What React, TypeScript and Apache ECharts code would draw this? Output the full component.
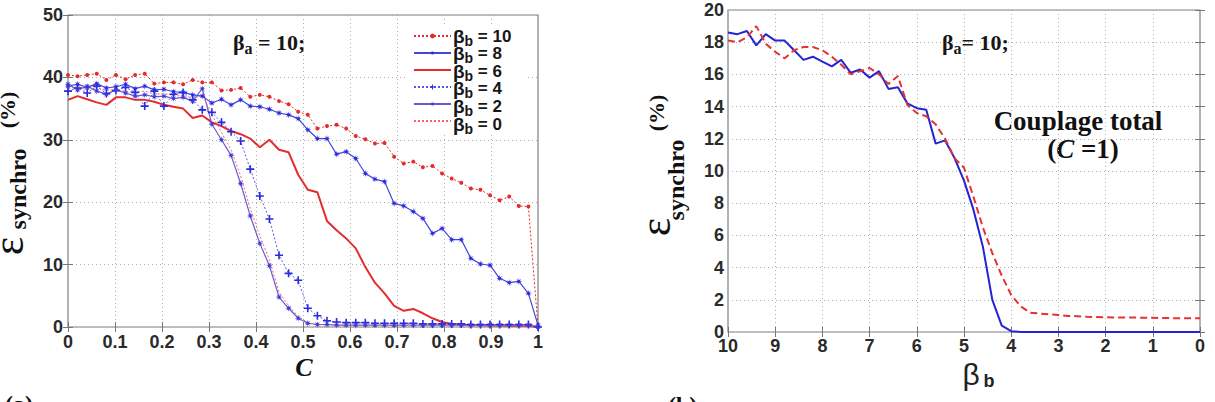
import { useEffect, useRef } from "react";
import * as echarts from "echarts";

// ---- Panel (a): synchronisation error vs coupling strength C (beta_a = 10) ----
// Coupling strength sampling grid: 50 points from 0 to 1
const couplingC = Array.from({ length: 50 }, (_, i) => i / 49);

const synchroB10 = [
  40.4, 40.2, 40.4, 40.6, 39.6, 40.4, 39.7, 40.4, 40.6, 39.0,
  39.2, 39.2, 38.9, 39.6, 39.2, 39.2, 37.9, 38.0, 38.3, 36.9,
  37.2, 36.9, 36.2, 35.7, 34.5, 34.0, 31.8, 32.2, 32.4, 31.8,
  30.6, 30.1, 29.4, 29.5, 27.3, 26.2, 26.5, 25.6, 25.8, 24.6,
  23.8, 23.1, 22.2, 22.0, 21.1, 20.3, 20.9, 19.4, 19.3, 0,
];
const synchroB8 = [
  38.6, 38.9, 38.4, 39.0, 38.3, 38.5, 38.9, 38.2, 38.6, 38.0,
  38.1, 37.7, 37.6, 37.2, 37.0, 35.9, 36.5, 35.6, 36.4, 35.4,
  35.3, 34.9, 34.3, 34.0, 33.4, 31.6, 30.2, 30.2, 27.7, 28.1,
  27.0, 24.6, 23.7, 23.3, 19.8, 19.4, 18.5, 17.4, 15.0, 15.8,
  14.0, 14.0, 11.0, 10.1, 9.9, 7.8, 7.1, 7.3, 5.4, 0.3,
];
const synchroB6 = [
  36.4, 37.0, 36.5, 36.0, 35.6, 36.8, 36.8, 36.4, 36.4, 36.1,
  35.6, 35.3, 35.0, 33.5, 33.9, 32.8, 32.2, 31.4, 30.9, 30.2,
  28.8, 30.0, 28.4, 28.0, 24.4, 22.0, 21.6, 17.0, 15.5, 14.2,
  12.6, 9.6, 7.1, 5.4, 3.4, 2.6, 2.9, 2.2, 1.4, 0.8,
  0.5, 0.35, 0.3, 0.3, 0.25, 0.25, 0.2, 0.2, 0.2, 0,
];
const synchroB4 = [
  37.8, 38.3, 37.5, 38.6, 37.4, 37.9, 38.4, 37.6, 35.4, 37.8,
  35.4, 37.3, 37.6, 36.4, 34.8, 34.4, 32.8, 31.3, 29.8, 25.3,
  21.0, 17.3, 11.5, 8.6, 7.5, 3.0, 1.8, 1.0, 0.8, 0.7,
  0.7, 0.7, 0.6, 0.6, 0.6, 0.6, 0.6, 0.5, 0.5, 0.5,
  0.5, 0.5, 0.4, 0.4, 0.4, 0.4, 0.4, 0.4, 0.4, 0,
];
const synchroB2 = [
  38.9, 38.0, 38.6, 37.8, 37.3, 38.0, 37.5, 37.0, 37.2, 36.9,
  37.0, 36.6, 36.8, 36.2, 38.2, 32.5, 30.0, 27.5, 23.0, 17.8,
  13.4, 9.8, 4.8, 3.0, 1.4, 0.6, 0.4, 0.4, 0.3, 0.3,
  0.3, 0.3, 0.3, 0.3, 0.3, 0.3, 0.3, 0.3, 0.3, 0.3,
  0.3, 0.3, 0.3, 0.3, 0.3, 0.3, 0.3, 0.3, 0.3, 0,
];
const synchroB0 = [
  38.2, 38.5, 38.0, 38.4, 37.9, 38.1, 37.7, 37.6, 37.8, 37.3,
  37.4, 37.1, 37.0, 36.6, 37.2, 34.0, 31.2, 28.4, 24.2, 19.0,
  14.6, 10.8, 5.6, 3.4, 1.7, 0.7, 0.4, 0.3, 0.3, 0.3,
  0.3, 0.3, 0.3, 0.3, 0.3, 0.3, 0.3, 0.3, 0.3, 0.3,
  0.3, 0.3, 0.3, 0.3, 0.3, 0.3, 0.3, 0.3, 0.3, 0,
];

// ---- Panel (b): synchronisation error vs beta_b under total coupling (C = 1) ----
// beta_b sampled from 10 down to 0 in steps of 0.2
const betaB = Array.from({ length: 51 }, (_, k) => Math.round((10 - 0.2 * k) * 10) / 10);

const synchroSolid = [
  18.6, 18.5, 18.7, 17.8, 18.5, 18.1, 18.1, 17.5, 16.9, 17.1,
  16.8, 16.5, 16.9, 16.1, 16.3, 15.8, 16.2, 15.1, 15.2, 14.2,
  13.9, 13.8, 11.7, 11.9, 10.8, 9.4, 7.6, 5.3, 2.0, 0.4,
  0.05, 0, 0, 0, 0, 0, 0, 0, 0, 0,
  0, 0, 0, 0, 0, 0, 0, 0, 0, 0, 0,
];
const synchroDashed = [
  18.1, 18.0, 18.3, 19.0, 17.9, 17.4, 17.0, 17.5, 17.7, 17.7,
  17.5, 17.1, 16.6, 16.0, 16.2, 16.4, 16.0, 15.4, 15.9, 14.1,
  13.6, 13.4, 12.9, 12.0, 10.8, 10.2, 8.4, 6.5, 4.9, 3.5,
  2.3, 1.6, 1.2, 1.15, 1.1, 1.05, 1.0, 0.98, 0.95, 0.93,
  0.92, 0.9, 0.9, 0.9, 0.88, 0.88, 0.87, 0.86, 0.86, 0.85, 0.85,
];

const legendValues = ["10", "8", "6", "4", "2", "0"];

const RED = "#e42c2c";
const BLUE = "#2a2ade";
const SANS = "Liberation Sans, Arial, sans-serif";
const SERIF = "Liberation Serif, Times New Roman, serif";

const PLUS = "path://M4,0H6V4H10V6H6V10H4V6H0V4H4Z";
const STAR =
  "path://M5,0 L1.66,0.69 L3.54,3.54 L0.69,1.66 L0,5 L-0.69,1.66 L-3.54,3.54 L-1.66,0.69 L-5,0 L-1.66,-0.69 L-3.54,-3.54 L-0.69,-1.66 L0,-5 L0.69,-1.66 L3.54,-3.54 L1.66,-0.69 Z";

const pairs = (xs: number[], ys: number[]) => xs.map((x, i) => [x, ys[i]]);
const legendName = (v: string) => `β_b = ${v}`;

// legend layout (icons from the ECharts legend, labels as rich text beside them)
const LEGEND_LEFT = 405;
const LEGEND_TOP = 27;
const LEGEND_PAD = 6;
const LEGEND_ICON_W = 37;
const LEGEND_ICON_H = 6;
const LEGEND_ROW = 17.6;

const tickLabel = {
  fontFamily: SANS,
  fontWeight: "bold" as const,
  fontSize: 18,
  color: "#2a2a2a",
};
const gridLine = { show: true, lineStyle: { type: [1, 3], color: "#b0b0b0", width: 1 } };
const innerTick = { show: true, inside: true, length: 5, lineStyle: { color: "#777" } };

function valueAxis(gridIndex: number, min: number, max: number, interval: number, extra: any = {}) {
  return {
    type: "value",
    gridIndex,
    min,
    max,
    interval,
    axisLine: { show: false },
    axisTick: innerTick,
    splitLine: gridLine,
    ...extra,
  };
}

function mirrorAxis(gridIndex: number, min: number, max: number, interval: number, position: string, extra: any = {}) {
  return {
    type: "value",
    gridIndex,
    min,
    max,
    interval,
    position,
    axisLine: { show: false },
    axisTick: innerTick,
    axisLabel: { show: false },
    splitLine: { show: false },
    ...extra,
  };
}

function rotatedText(x: number, y: number, text: string, fontSize: number, bold: boolean) {
  return {
    type: "text",
    x,
    y,
    rotation: Math.PI / 2,
    style: {
      text,
      fontSize,
      fontFamily: SERIF,
      fontWeight: bold ? "bold" : "normal",
      fill: "#111",
      textAlign: "center",
      textVerticalAlign: "middle",
    },
  };
}

function subscripted(x: number, y: number, main: string, sub: string, rest: string, family: string, sizes: number[]) {
  return {
    type: "text",
    x,
    y,
    z: 100,
    style: {
      text: `{g|${main}}{s|${sub}}{t|${rest}}`,
      textAlign: "left",
      textVerticalAlign: "middle",
      fill: "#111",
      rich: {
        g: { fontSize: sizes[0], fontWeight: "bold", fontFamily: family, fill: "#161616" },
        s: { fontSize: sizes[1], fontWeight: "bold", fontFamily: family, fill: "#161616", padding: [sizes[3], 0, 0, 0] },
        t: { fontSize: sizes[2], fontWeight: "bold", fontFamily: family, fill: "#161616" },
      },
    },
  };
}

const legendLabels = legendValues.map((v, k) =>
  subscripted(
    LEGEND_LEFT + LEGEND_PAD + 2 + LEGEND_ICON_W + 3,
    LEGEND_TOP + LEGEND_PAD + LEGEND_ICON_H / 2 + k * LEGEND_ROW,
    "β",
    "b",
    ` = ${v}`,
    SANS,
    [19, 14, 17, 9]
  )
);

const noMarkerInLegend = new Set(["6", "0"]);

const option: any = {
  animation: false,
  backgroundColor: "#ffffff",
  textStyle: { fontFamily: SANS },
  grid: [
    { left: 68, top: 15, width: 470, height: 312, show: true, borderColor: "#808080", borderWidth: 1.2, backgroundColor: "transparent" },
    { left: 728, top: 10, width: 472, height: 322, show: true, borderColor: "#808080", borderWidth: 1.2, backgroundColor: "transparent" },
  ],
  xAxis: [
    valueAxis(0, 0, 1, 0.1, {
      axisLabel: { ...tickLabel, margin: 6, formatter: (v: number) => String(Math.round(v * 10) / 10) },
    }),
    mirrorAxis(0, 0, 1, 0.1, "top"),
    valueAxis(1, 0, 10, 1, { inverse: true, axisLabel: { ...tickLabel, margin: 5 } }),
    mirrorAxis(1, 0, 10, 1, "top", { inverse: true }),
  ],
  yAxis: [
    valueAxis(0, 0, 50, 10, { axisLabel: { ...tickLabel, margin: 5 } }),
    mirrorAxis(0, 0, 50, 10, "right"),
    valueAxis(1, 0, 20, 2, { axisLabel: { ...tickLabel, margin: 4 } }),
    mirrorAxis(1, 0, 20, 2, "right"),
  ],
  legend: {
    data: legendValues.map((v) =>
      noMarkerInLegend.has(v) ? { name: legendName(v), itemStyle: { opacity: 0 } } : { name: legendName(v) }
    ),
    orient: "vertical",
    left: LEGEND_LEFT,
    top: LEGEND_TOP,
    padding: [LEGEND_PAD, 76, 10, LEGEND_PAD + 2],
    backgroundColor: "#ffffff",
    itemWidth: LEGEND_ICON_W,
    itemHeight: LEGEND_ICON_H,
    itemGap: LEGEND_ROW - LEGEND_ICON_H,
    selectedMode: false,
    formatter: () => "",
    textStyle: { fontSize: 4 },
  },
  series: [
    {
      name: legendName("10"),
      type: "line",
      xAxisIndex: 0,
      yAxisIndex: 0,
      data: pairs(couplingC, synchroB10),
      symbol: "circle",
      symbolSize: 4,
      itemStyle: { color: RED },
      lineStyle: { color: RED, width: 1, type: [2, 2] },
      silent: true,
    },
    {
      name: legendName("8"),
      type: "line",
      xAxisIndex: 0,
      yAxisIndex: 0,
      data: pairs(couplingC, synchroB8),
      symbol: STAR,
      symbolSize: 7,
      itemStyle: { color: BLUE },
      lineStyle: { color: "#4646dc", width: 1.2 },
      silent: true,
    },
    {
      name: legendName("6"),
      type: "line",
      xAxisIndex: 0,
      yAxisIndex: 0,
      data: pairs(couplingC, synchroB6),
      symbol: "none",
      itemStyle: { color: RED },
      lineStyle: { color: RED, width: 2 },
      silent: true,
    },
    {
      name: legendName("4"),
      type: "line",
      xAxisIndex: 0,
      yAxisIndex: 0,
      data: pairs(couplingC, synchroB4),
      symbol: PLUS,
      symbolSize: 8,
      itemStyle: { color: BLUE },
      lineStyle: { color: "#5a5ae0", width: 1, type: [2, 2] },
      silent: true,
    },
    {
      name: legendName("2"),
      type: "line",
      xAxisIndex: 0,
      yAxisIndex: 0,
      data: pairs(couplingC, synchroB2),
      symbol: STAR,
      symbolSize: 7,
      itemStyle: { color: "#3a3ad8" },
      lineStyle: { color: "#6a5ad0", width: 1.2 },
      silent: true,
    },
    {
      name: legendName("0"),
      type: "line",
      xAxisIndex: 0,
      yAxisIndex: 0,
      data: pairs(couplingC, synchroB0),
      symbol: "none",
      itemStyle: { color: "#ee6a6a" },
      lineStyle: { color: "#ee6a6a", width: 1, type: [2, 2] },
      silent: true,
    },
    {
      name: "C = 1 (trait plein)",
      type: "line",
      xAxisIndex: 2,
      yAxisIndex: 2,
      data: pairs(betaB, synchroSolid),
      symbol: "none",
      lineStyle: { color: "#2424d2", width: 2 },
      silent: true,
    },
    {
      name: "C = 1 (tirets)",
      type: "line",
      xAxisIndex: 2,
      yAxisIndex: 2,
      data: pairs(betaB, synchroDashed),
      symbol: "none",
      lineStyle: { color: "#e53232", width: 2, type: [7, 4] },
      silent: true,
    },
  ],
  graphic: [
    ...legendLabels,
    // y-axis title, panel (a)
    rotatedText(8, 246, "ε", 44, false),
    rotatedText(18, 189, "synchro", 24, true),
    rotatedText(7, 110, "(%)", 22, true),
    // y-axis title, panel (b)
    rotatedText(655, 227, "ε", 44, false),
    rotatedText(676, 180, "synchro", 24, true),
    rotatedText(656, 113, "(%)", 22, true),
    // x-axis titles
    {
      type: "text",
      x: 304,
      y: 367,
      style: {
        text: "C",
        fontSize: 26,
        fontWeight: "bold",
        fontStyle: "italic",
        fontFamily: SERIF,
        fill: "#111",
        textAlign: "center",
        textVerticalAlign: "middle",
      },
    },
    {
      type: "text",
      x: 971,
      y: 374,
      style: {
        text: "β",
        fontSize: 30,
        fontFamily: SANS,
        fill: "#222",
        textAlign: "center",
        textVerticalAlign: "middle",
      },
    },
    {
      type: "text",
      x: 989,
      y: 381,
      style: {
        text: "b",
        fontSize: 18,
        fontWeight: "bold",
        fontFamily: SANS,
        fill: "#222",
        textAlign: "center",
        textVerticalAlign: "middle",
      },
    },
    // annotations
    subscripted(233, 42, "β", "a", " = 10;", SERIF, [22, 16, 22, 12]),
    subscripted(942, 42, "β", "a", "= 10;", SERIF, [22, 16, 22, 12]),
    {
      type: "text",
      x: 1078,
      y: 121,
      style: {
        text: "Couplage total",
        fontSize: 27,
        fontWeight: "bold",
        fontFamily: SERIF,
        fill: "#111",
        textAlign: "center",
        textVerticalAlign: "middle",
      },
    },
    {
      type: "text",
      x: 1083,
      y: 149,
      style: {
        text: "{p|(}{i|C}{p| =1)}",
        textAlign: "center",
        textVerticalAlign: "middle",
        rich: {
          p: { fontSize: 27, fontWeight: "bold", fontFamily: SERIF, fill: "#111" },
          i: { fontSize: 27, fontWeight: "bold", fontStyle: "italic", fontFamily: SERIF, fill: "#111" },
        },
      },
    },
    // panel tags
    {
      type: "text",
      x: 5,
      y: 392,
      style: { text: "(a)", fontSize: 24, fontWeight: "bold", fontFamily: SERIF, fill: "#111", textVerticalAlign: "top" },
    },
    {
      type: "text",
      x: 668,
      y: 393,
      style: { text: "(b)", fontSize: 24, fontWeight: "bold", fontFamily: SERIF, fill: "#111", textVerticalAlign: "top" },
    },
  ],
};

export default function App() {
  const ref = useRef<HTMLDivElement>(null);
  useEffect(() => {
    const chart = echarts.init(ref.current!, undefined, { renderer: "svg" });
    chart.setOption(option);
    return () => chart.dispose();
  }, []);
  return (
    <div
      ref={ref}
      style={{ position: "fixed", left: 0, top: 0, width: 1215, height: 402, background: "#fff" }}
    />
  );
}
